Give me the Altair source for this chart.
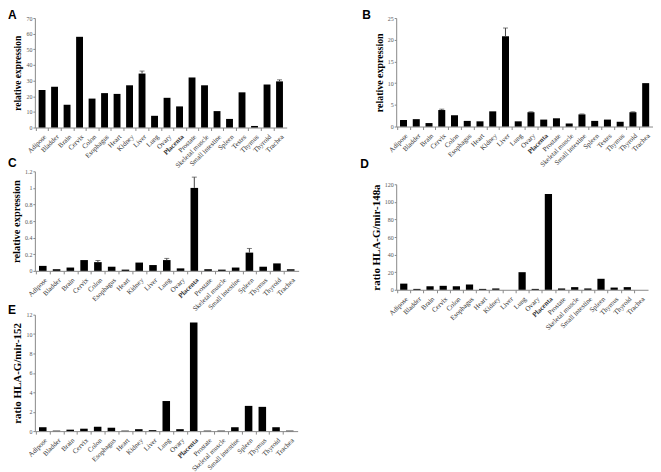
import altair as alt
import pandas as pd

tissues_a = ["Adipose", "Bladder", "Brain", "Cervix", "Colon", "Esophagus", "Heart", "Kidney",
             "Liver", "Lung", "Ovary", "Placenta", "Prostate", "Skeletal muscle", "Small intestine",
             "Spleen", "Testes", "Thymus", "Thyroid", "Trachea"]
tissues_c = ["Adipose", "Bladder", "Brain", "Cervix", "Colon", "Esophagus", "Heart", "Kidney",
             "Liver", "Lung", "Ovary", "Placenta", "Prostate", "Skeletal muscle", "Small intestine",
             "Spleen", "Thymus", "Thyroid", "Trachea"]

a_vals = [24, 26, 14.5, 58, 18.5, 22, 21.5, 27, 34.5, 7.5, 19, 13.5, 32, 27, 10.5, 5.5, 22.5, 1, 27.5, 29.5]
a_err = [0, 0, 0, 0, 0, 0, 0, 0, 1.6, 0, 0, 0, 0, 0, 0, 0, 0, 0, 0, 1.0]

b_vals = [1.5, 1.7, 0.8, 3.8, 2.6, 1.3, 1.2, 3.5, 20.8, 1.2, 3.3, 1.6, 1.9, 0.7, 2.8, 1.3, 1.6, 1.1, 3.3, 10.0]
b_err = [0, 0, 0, 0.2, 0, 0, 0, 0, 1.9, 0, 0.1, 0, 0, 0, 0.1, 0, 0, 0, 0.1, 0]

c_vals = [0.06, 0.02, 0.04, 0.13, 0.105, 0.05, 0.015, 0.10, 0.07, 0.13, 0.03, 1.0, 0.02, 0.015,
          0.04, 0.22, 0.05, 0.09, 0.02]
c_err = [0, 0, 0, 0, 0.02, 0, 0, 0, 0, 0.02, 0, 0.13, 0, 0, 0, 0.05, 0, 0, 0]

d_vals = [7, 1, 4, 4.5, 4, 6, 1, 1.5, 0, 20, 1, 109, 1.5, 3, 1.5, 12.5, 2.5, 3, 0]
d_err = [0] * 19

e_vals = [0.4, 0.05, 0.15, 0.25, 0.45, 0.35, 0.05, 0.2, 0.1, 3.1, 0.2, 11.2, 0.05, 0.05, 0.4,
          2.6, 2.5, 0.4, 0.05]
e_err = [0] * 19

SERIF = "Liberation Serif"
P_IN, P_OUT = 0.45, 0.3


def panel(cats, vals, errs, letter, ytitle, ymax, ystep, w, h, ldx, ldy, ytsize=11):
    df = pd.DataFrame({"tissue": cats, "v": vals, "e": errs})
    df["top"] = df["v"] + df["e"]
    step = w / (len(cats) - P_IN + 2 * P_OUT)
    xaxis = alt.Axis(title=None, labelAngle=-45, labelAlign="right", labelBaseline="top",
                     labelFont=SERIF, labelFontSize=7, labelColor="#333",
                     labelFontWeight={"condition": {"test": "datum.value === 'Placenta'", "value": "bold"},
                                      "value": "normal"},
                     domainColor="#888", tickColor="#888", tickSize=3, labelPadding=2,
                     tickOffset=-step / 2, labelOffset=step / 2, labelOverlap=False)
    xscale = alt.Scale(paddingInner=P_IN, paddingOuter=P_OUT)
    x = alt.X("tissue:N", sort=cats, scale=xscale, axis=xaxis)
    ticks = []
    t = 0.0
    while t <= ymax + 1e-9:
        ticks.append(round(t, 6))
        t += ystep
    yaxis = alt.Axis(title=ytitle, values=ticks,
                     labelExpr="'' + round(datum.value * 100) / 100",
                     titleFont=SERIF, titleFontSize=ytsize, titleFontWeight="bold",
                     titleColor="black", titlePadding=3, labelFont=SERIF, labelFontSize=6,
                     labelColor="#555", domainColor="#888", tickColor="#888", tickSize=2,
                     labelPadding=1, grid=False, labelOverlap=False)
    yscale = alt.Scale(domain=[0, ymax], nice=False)
    base = alt.Chart(df)
    bars = base.mark_bar(color="black").encode(
        x=x, y=alt.Y("v:Q", scale=yscale, axis=yaxis))
    errdf = base.transform_filter("datum.e > 0")
    err = errdf.mark_rule(color="#444", strokeWidth=1).encode(
        x=x, y=alt.Y("v:Q", scale=yscale, axis=yaxis), y2="top:Q")
    cap = errdf.mark_tick(color="#444", thickness=1, size=5, orient="horizontal").encode(
        x=x, y=alt.Y("top:Q", scale=yscale, axis=yaxis))
    lab = base.transform_filter("datum.tissue === '%s'" % cats[0]).mark_text(
        text=letter, font="Liberation Sans", fontSize=12, fontWeight="bold", align="left",
        baseline="top", color="black").encode(x=alt.value(ldx), y=alt.value(ldy))
    return alt.layer(bars, err, cap, lab).properties(width=w, height=h)


pA = panel(tissues_a, a_vals, a_err, "A", "relative expression", 70, 10, 253, 110, -27, -8, ytsize=9.5)
pB = panel(tissues_a, b_vals, b_err, "B", "relative expression", 25, 5, 258, 109, -34, -8, ytsize=10)
pC = panel(tissues_c, c_vals, c_err, "C", "relative expression", 1.2, 0.2, 265, 100, -27, -13, ytsize=10.5)
pD = panel(tissues_c, d_vals, d_err, "D", "ratio HLA-G/mir-148a", 120, 20, 253, 106, -36, -25)
pE = panel(tissues_c, e_vals, e_err, "E", "ratio HLA-G/mir-152", 12, 2, 264, 117, -27, -10)

col1 = alt.vconcat(pA, pC, pE, spacing=44, bounds="flush")
col2 = alt.vconcat(pB, pD, spacing=58, bounds="flush")
chart = alt.hconcat(col1, col2, spacing=62).properties(padding=0).configure_view(stroke=None)

chart.save("out.html", embed_options={"renderer": "svg", "actions": False})
